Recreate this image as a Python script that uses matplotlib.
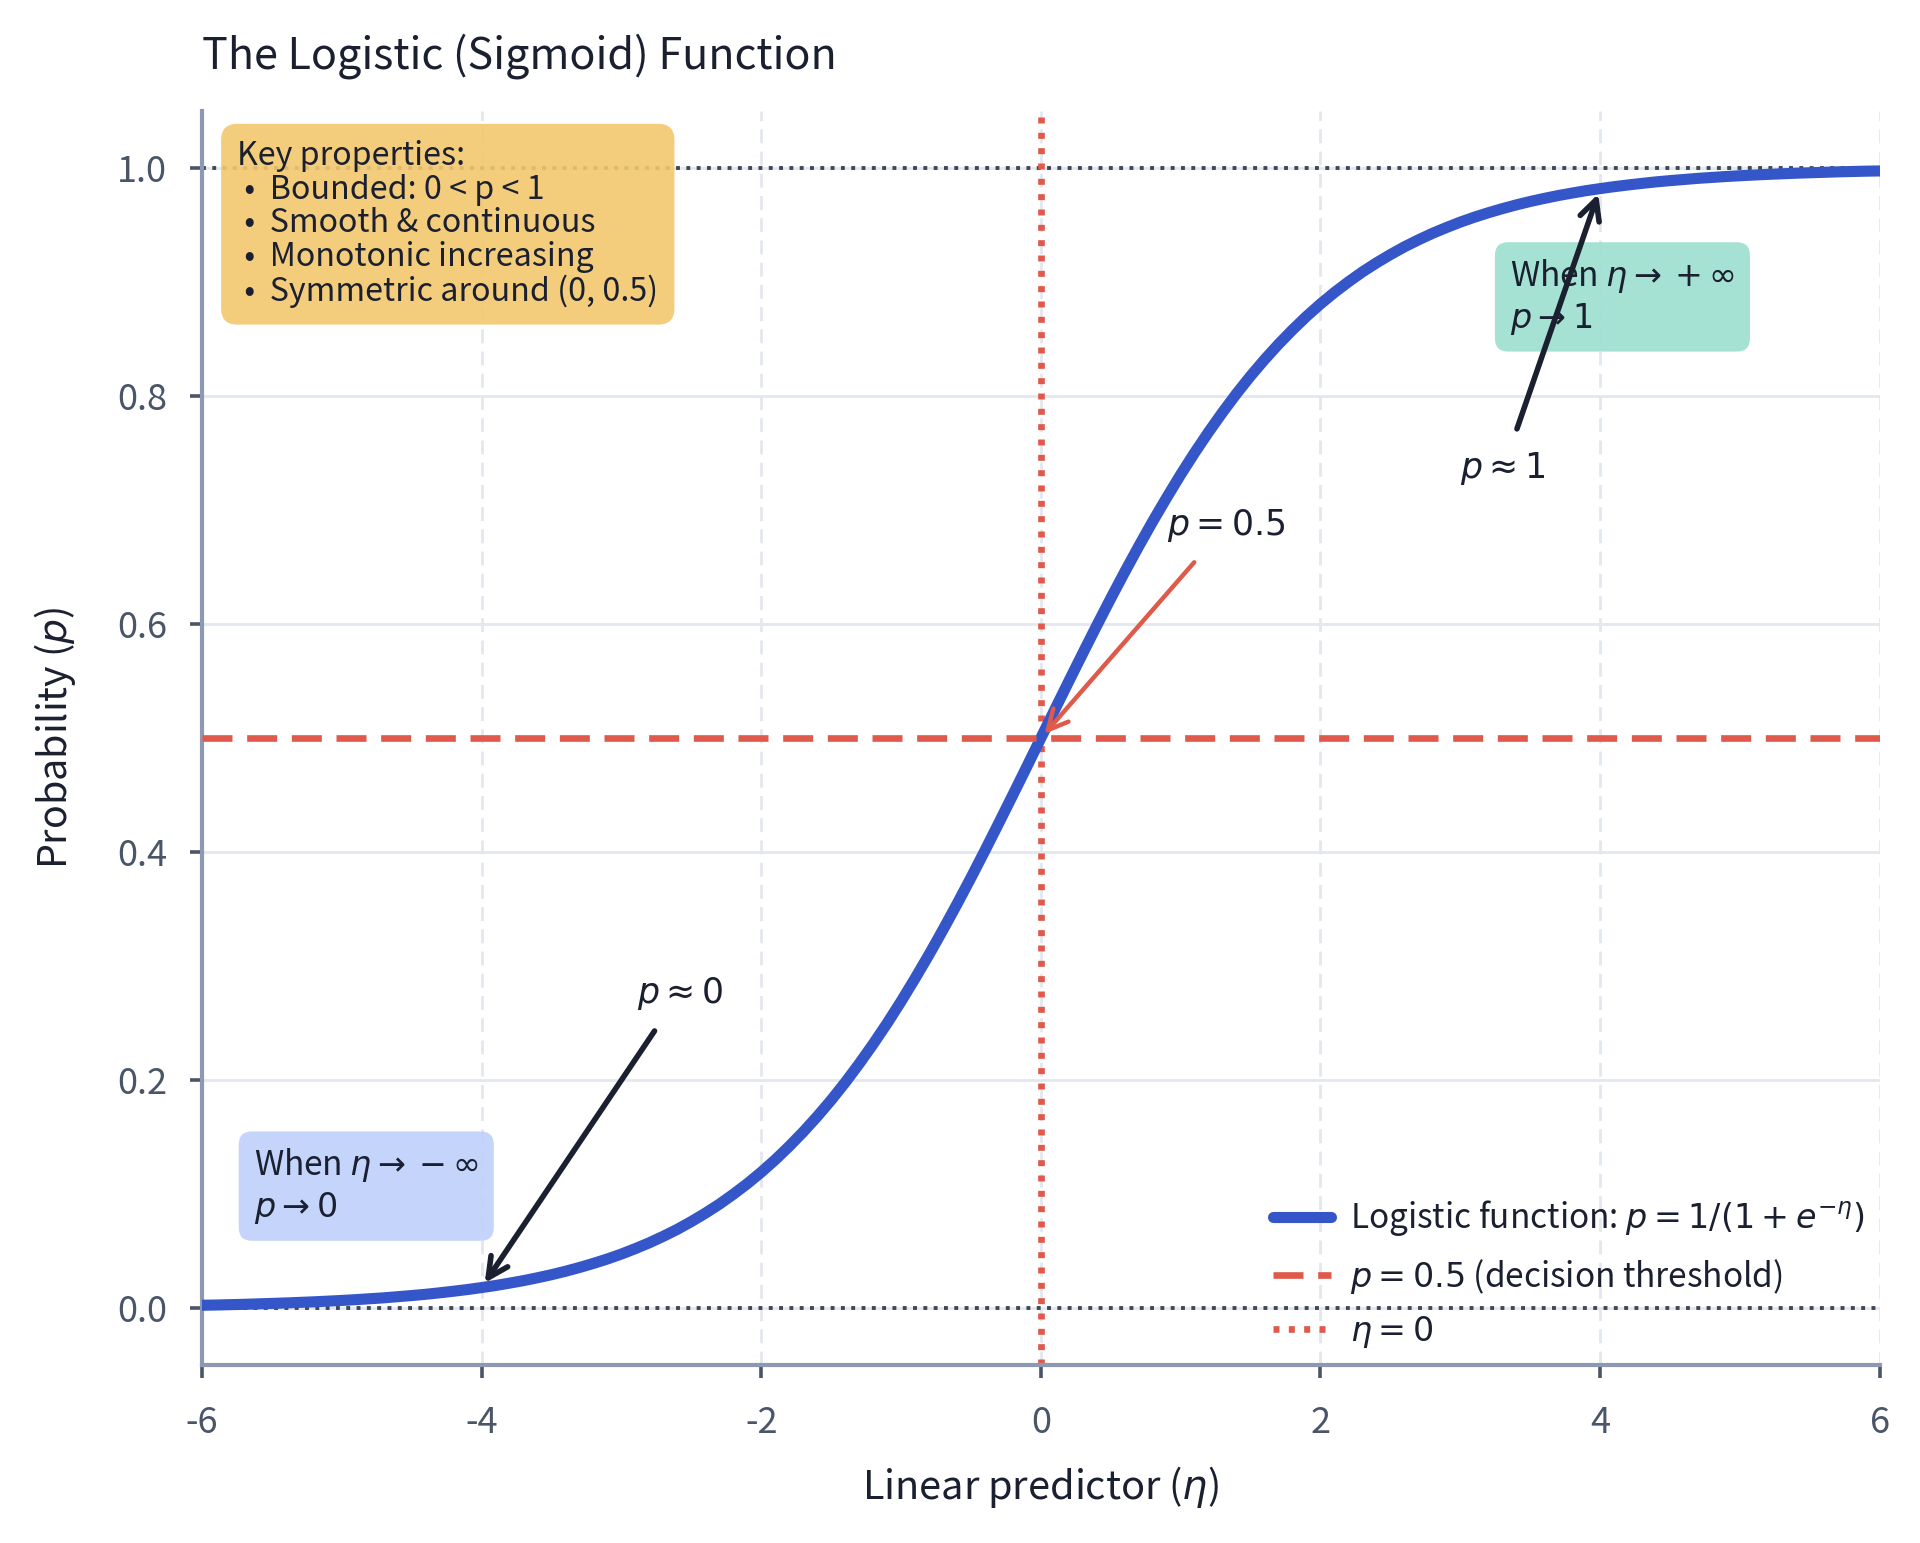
import matplotlib
matplotlib.use("Agg")
import matplotlib.pyplot as plt

plt.rcParams['font.family'] = ['Noto Sans CJK KR', 'DejaVu Sans']
plt.rcParams['axes.unicode_minus'] = False
plt.rcParams['mathtext.fontset'] = 'dejavusans'

# ---- data ----
eta = [-6.0, -5.9, -5.8, -5.7, -5.6, -5.5, -5.4, -5.3, -5.2, -5.1,
       -5.0, -4.9, -4.8, -4.7, -4.6, -4.5, -4.4, -4.3, -4.2, -4.1,
       -4.0, -3.9, -3.8, -3.7, -3.6, -3.5, -3.4, -3.3, -3.2, -3.1,
       -3.0, -2.9, -2.8, -2.7, -2.6, -2.5, -2.4, -2.3, -2.2, -2.1,
       -2.0, -1.9, -1.8, -1.7, -1.6, -1.5, -1.4, -1.3, -1.2, -1.1,
       -1.0, -0.9, -0.8, -0.7, -0.6, -0.5, -0.4, -0.3, -0.2, -0.1,
       0.0, 0.1, 0.2, 0.3, 0.4, 0.5, 0.6, 0.7, 0.8, 0.9,
       1.0, 1.1, 1.2, 1.3, 1.4, 1.5, 1.6, 1.7, 1.8, 1.9,
       2.0, 2.1, 2.2, 2.3, 2.4, 2.5, 2.6, 2.7, 2.8, 2.9,
       3.0, 3.1, 3.2, 3.3, 3.4, 3.5, 3.6, 3.7, 3.8, 3.9,
       4.0, 4.1, 4.2, 4.3, 4.4, 4.5, 4.6, 4.7, 4.8, 4.9,
       5.0, 5.1, 5.2, 5.3, 5.4, 5.5, 5.6, 5.7, 5.8, 5.9, 6.0]
prob = [0.0025, 0.0027, 0.0030, 0.0033, 0.0037, 0.0041, 0.0045, 0.0050, 0.0055, 0.0061,
        0.0067, 0.0074, 0.0082, 0.0090, 0.0100, 0.0110, 0.0121, 0.0134, 0.0148, 0.0163,
        0.0180, 0.0198, 0.0219, 0.0241, 0.0266, 0.0293, 0.0323, 0.0356, 0.0392, 0.0431,
        0.0474, 0.0522, 0.0573, 0.0630, 0.0691, 0.0759, 0.0832, 0.0911, 0.0998, 0.1091,
        0.1192, 0.1301, 0.1419, 0.1545, 0.1680, 0.1824, 0.1978, 0.2142, 0.2315, 0.2497,
        0.2689, 0.2891, 0.3100, 0.3318, 0.3543, 0.3775, 0.4013, 0.4256, 0.4502, 0.4750,
        0.5000, 0.5250, 0.5498, 0.5744, 0.5987, 0.6225, 0.6457, 0.6682, 0.6900, 0.7109,
        0.7311, 0.7503, 0.7685, 0.7858, 0.8022, 0.8176, 0.8320, 0.8455, 0.8581, 0.8699,
        0.8808, 0.8909, 0.9002, 0.9089, 0.9168, 0.9241, 0.9309, 0.9370, 0.9427, 0.9478,
        0.9526, 0.9569, 0.9608, 0.9644, 0.9677, 0.9707, 0.9734, 0.9759, 0.9781, 0.9802,
        0.9820, 0.9837, 0.9852, 0.9866, 0.9879, 0.9890, 0.9900, 0.9910, 0.9918, 0.9926,
        0.9933, 0.9939, 0.9945, 0.9950, 0.9955, 0.9959, 0.9963, 0.9967, 0.9970, 0.9973, 0.9975]
threshold = 0.5
x_ticks = [-6, -4, -2, 0, 2, 4, 6]
y_ticks = [0.0, 0.2, 0.4, 0.6, 0.8, 1.0]
key_props = ["Bounded: 0 < p < 1", "Smooth & continuous",
             "Monotonic increasing", "Symmetric around (0, 0.5)"]

BLUE = '#3456c8'
RED = '#df5a4b'
DARK = '#3f4759'
SPINE = '#8d98b2'
GRID = '#e3e7ee'
TICK = '#4a5568'
TEXT = '#1a2030'

fig = plt.figure(figsize=(9.6, 7.715), dpi=200)
ax = fig.add_axes([0.1052, 0.1153, 0.979 - 0.1052, 0.928 - 0.1153])

ax.set_xlim(-6, 6)
ax.set_ylim(-0.05, 1.05)

# grid
ax.set_axisbelow(True)
ax.yaxis.grid(True, color=GRID, lw=1.0, ls='-')
ax.xaxis.grid(True, color=GRID, lw=1.0, ls=(0, (5, 3)))

# reference lines
ax.axhline(0, color=DARK, lw=1.4, ls=':', zorder=2)
ax.axhline(1, color=DARK, lw=1.4, ls=':', zorder=2)

ax.plot(eta, prob, color=BLUE, lw=4.0, zorder=3, solid_capstyle='round',
        label=r'Logistic function: $p = 1/(1+e^{-\eta})$')
ax.axhline(threshold, color=RED, lw=2.4, ls=(0, (4.5, 2.2)), zorder=4,
           label=r'$p = 0.5$ (decision threshold)')
ax.axvline(0, color=RED, lw=2.4, ls=(0, (0.9, 1.4)), zorder=2,
           label=r'$\eta = 0$')

# spines
for s in ['top', 'right']:
    ax.spines[s].set_visible(False)
for s in ['left', 'bottom']:
    ax.spines[s].set_color(SPINE)
    ax.spines[s].set_linewidth(1.5)

ax.set_xticks(x_ticks)
ax.set_xticklabels([str(v) for v in x_ticks])
ax.set_yticks(y_ticks)
ax.set_yticklabels([f'{v:.1f}' for v in y_ticks])
ax.tick_params(axis='both', length=4.5, width=1.3, color=TICK, labelcolor=TICK,
               labelsize=13, pad=8)
ax.tick_params(axis='x', pad=10)

ax.set_xlabel(r'Linear predictor ($\eta$)', fontsize=14.3, color=TEXT, labelpad=8)
ax.set_ylabel(r'Probability ($p$)', fontsize=14.2, color=TEXT, labelpad=14)
ax.set_title('The Logistic (Sigmoid) Function', loc='left', fontsize=15.5,
             color=TEXT, pad=15.5)

# key properties box
ax.text(0.021, 0.977, "Key properties:\n" + "\n".join(" \u2022  " + k for k in key_props),
        transform=ax.transAxes, ha='left', va='top', fontsize=11.6, color=TEXT,
        linespacing=1.07,
        bbox=dict(boxstyle='round,pad=0.5,rounding_size=0.5', fc='#f2c86e', ec='none',
                  alpha=0.9), zorder=6)

# asymptote boxes
ax.text(3.355, 0.887, "When $\\eta \\rightarrow +\\infty$\n$p \\rightarrow 1$",
        ha='left', va='center', fontsize=12, color=TEXT, linespacing=1.2,
        bbox=dict(boxstyle='round,pad=0.45,rounding_size=0.4', fc='#9ddfd0', ec='none',
                  alpha=0.9), zorder=5)
ax.text(-5.63, 0.107, "When $\\eta \\rightarrow -\\infty$\n$p \\rightarrow 0$",
        ha='left', va='center', fontsize=12, color=TEXT, linespacing=1.2,
        bbox=dict(boxstyle='round,pad=0.45,rounding_size=0.4', fc='#bfd0fb', ec='none',
                  alpha=0.9), zorder=5)

# annotations
i_hi = eta.index(4.0)
i_lo = eta.index(-4.0)
i_mid = eta.index(0.0)
ax.annotate(r'$p \approx 1$', xy=(eta[i_hi], prob[i_hi]), xytext=(3.0, 0.728),
            fontsize=12.5, color=TEXT, ha='left', va='baseline',
            arrowprops=dict(arrowstyle='->', color=TEXT, lw=2.0,
                            mutation_scale=18, shrinkA=6, shrinkB=2), zorder=7)
ax.annotate(r'$p \approx 0$', xy=(eta[i_lo], prob[i_lo]), xytext=(-2.89, 0.268),
            fontsize=12.5, color=TEXT, ha='left', va='baseline',
            arrowprops=dict(arrowstyle='->', color=TEXT, lw=2.0,
                            mutation_scale=18, shrinkA=6, shrinkB=2), zorder=7)
ax.annotate(r'$p = 0.5$', xy=(eta[i_mid], prob[i_mid]), xytext=(0.9, 0.678),
            fontsize=12.5, color=TEXT, ha='left', va='baseline',
            arrowprops=dict(arrowstyle='->', color=RED, lw=1.6,
                            mutation_scale=18, shrinkA=6, shrinkB=2), zorder=7)

leg = ax.legend(loc='lower right', frameon=False, fontsize=12, handlelength=1.75,
                handletextpad=0.55, labelspacing=0.55, borderaxespad=0.05)
for t in leg.get_texts():
    t.set_color(TEXT)

fig.savefig('out.png', dpi=200)
